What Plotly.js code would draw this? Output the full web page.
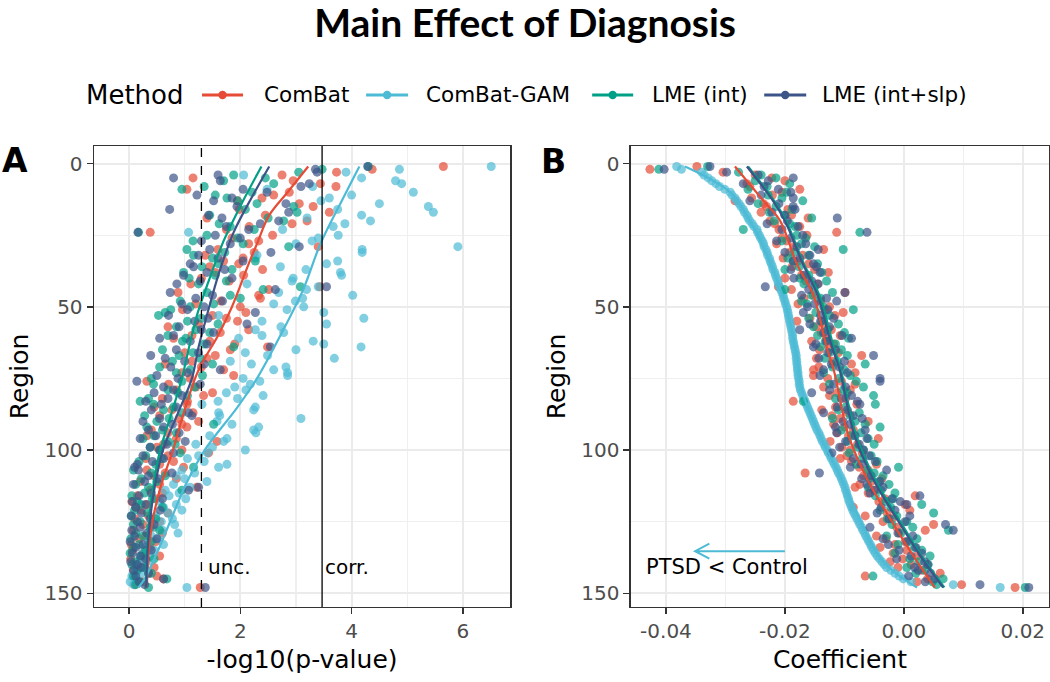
<!DOCTYPE html>
<html><head><meta charset="utf-8">
<script src="https://cdn.plot.ly/plotly-3.0.1.min.js"></script>
<style>body{margin:0;background:#fff}#chart{width:1050px;height:682px}</style>
</head><body><div id="chart"></div>
<script>
// ---------- data ----------
const methods = ['ComBat', 'ComBat-GAM', 'LME (int)', 'LME (int+slp)'];
const colors = ['#E64B35', '#4DBBD5', '#00A087', '#3C5488'];

const regions = [
1,2,3,4,5,6,7,8,9,10,11,12,13,14,15,16,17,18,19,20,
21,22,23,24,25,26,27,28,29,30,31,32,33,34,35,36,37,38,39,40,
41,42,43,44,45,46,47,48,49,50,51,52,53,54,55,56,57,58,59,60,
61,62,63,64,65,66,67,68,69,70,71,72,73,74,75,76,77,78,79,80,
81,82,83,84,85,86,87,88,89,90,91,92,93,94,95,96,97,98,99,100,
101,102,103,104,105,106,107,108,109,110,111,112,113,114,115,116,117,118,119,120,
121,122,123,124,125,126,127,128,129,130,131,132,133,134,135,136,137,138,139,140,
141,142,143,144,145,146,147,148];

// Panel A: -log10(p-value)
const logpCombat = [
5.65,4.37,3.73,2.75,1.15,2.95,3.44,3.72,1.04,2.88,
2.60,2.39,1.95,3.06,3.31,1.98,3.60,2.45,1.40,3.20,
2.93,2.16,1.75,0.38,2.58,1.85,2.33,2.15,3.40,1.60,
2.25,1.37,2.05,1.70,1.97,1.45,2.40,1.55,2.06,1.30,
1.80,1.11,3.43,2.51,0.88,2.33,2.36,1.65,1.20,2.00,
0.96,2.10,1.50,1.75,1.95,1.25,0.70,2.15,1.64,1.13,
0.80,1.45,1.90,2.49,1.82,1.00,1.55,1.40,1.13,0.65,
1.30,1.70,0.95,1.88,1.10,0.32,0.71,1.20,0.85,1.50,
1.34,0.60,1.05,1.04,0.45,0.77,1.15,0.55,0.90,1.25,
0.95,1.04,0.40,0.70,0.32,0.85,1.58,0.62,0.50,0.95,
1.43,0.70,0.30,0.80,0.55,0.98,0.32,0.65,0.45,0.85,
0.20,0.55,1.22,0.38,0.60,0.15,0.48,0.05,0.32,0.12,
0.22,0.70,0.35,0.10,0.55,0.25,0.42,0.08,0.60,0.30,
0.18,0.48,0.04,0.38,0.06,0.25,0.55,0.03,0.30,0.15,
0.45,0.08,0.35,0.50,0.62,0.26,0.10,1.28];
const logpGam = [
6.51,4.86,3.90,2.06,4.18,4.79,4.90,3.30,2.48,5.11,
4.00,3.60,3.45,4.50,5.38,3.75,5.47,4.18,3.20,4.34,
3.88,3.67,2.76,1.07,3.76,3.40,3.29,3.00,5.91,4.19,
4.19,2.30,2.27,3.75,3.55,2.72,3.18,3.80,3.82,2.95,
2.93,2.12,3.40,3.19,2.69,4.02,3.12,2.99,2.60,3.14,
2.84,3.50,1.61,4.22,2.39,3.55,2.73,2.27,2.78,2.39,
1.97,3.31,3.50,4.17,3.00,2.09,2.49,3.69,1.82,2.20,
2.82,2.60,2.85,2.85,2.05,2.35,2.18,1.90,2.10,1.75,
2.41,1.95,1.60,1.31,2.27,2.24,1.61,1.63,3.09,1.58,
1.85,2.33,2.24,2.28,1.45,1.76,1.70,1.20,1.50,2.09,
1.41,1.25,1.05,1.35,1.76,1.61,0.95,1.18,0.85,1.00,
1.40,0.80,1.10,0.65,0.90,0.72,1.02,0.55,0.85,0.62,
0.95,0.70,0.48,0.78,0.58,0.82,0.45,0.60,0.88,0.40,
0.52,0.35,0.62,0.30,0.45,0.25,0.38,0.20,0.32,0.15,
0.28,0.10,0.22,0.05,0.12,0.02,0.08,1.04];
const logpInt = [
4.30,3.47,3.05,1.88,2.45,1.70,2.60,1.35,0.95,2.21,
1.55,1.76,1.95,2.30,2.96,2.09,3.02,1.45,2.50,2.78,
1.62,1.82,2.25,0.17,1.40,1.95,1.15,2.05,2.87,1.04,
1.72,1.16,1.50,2.27,1.61,1.31,1.85,0.98,1.55,1.08,
1.75,1.25,3.08,2.41,1.40,1.82,2.00,0.92,1.52,1.10,
0.75,0.65,0.53,1.30,1.05,1.60,0.85,1.20,1.45,0.70,
1.02,0.96,1.35,1.88,0.60,1.15,0.90,1.28,0.78,1.50,
0.55,1.10,0.85,1.32,0.40,0.95,0.44,1.18,0.70,0.88,
1.05,0.35,0.20,0.44,0.80,0.62,0.95,0.28,0.72,0.50,
1.52,0.32,0.60,0.85,0.45,0.25,0.70,0.83,0.38,0.55,
0.92,0.30,0.59,0.18,0.48,1.16,0.08,0.40,0.65,0.22,
0.50,0.12,0.35,0.95,0.28,0.05,0.42,0.15,0.22,0.60,
0.10,0.33,0.04,0.48,0.20,0.08,0.38,0.55,0.12,0.25,
0.03,0.40,0.18,0.08,0.30,0.02,0.22,0.45,0.10,0.05,
0.28,0.15,0.40,0.08,0.68,0.20,0.12,0.35];
const logpSlp = [
4.29,3.35,3.38,1.60,0.80,1.64,3.24,3.09,2.05,2.48,
1.22,1.85,1.52,2.82,1.94,0.73,2.87,1.43,1.67,2.69,
2.36,1.75,2.15,0.16,1.55,2.00,1.30,1.82,3.06,1.45,
2.55,1.25,1.60,2.05,1.10,1.16,1.72,1.40,0.98,1.85,
1.28,0.86,3.55,2.63,0.74,1.50,1.20,1.68,0.95,1.35,
1.05,2.27,0.71,1.42,1.18,2.12,0.90,1.30,1.52,0.80,
0.55,1.10,1.40,2.54,0.85,1.25,0.39,0.65,1.00,1.35,
0.75,1.64,1.05,0.50,0.88,0.14,1.28,0.62,0.80,0.45,
0.95,0.70,0.30,0.58,0.85,0.40,1.07,1.13,0.55,0.25,
0.78,0.62,0.35,0.90,0.48,0.20,1.01,0.68,0.38,0.55,
0.80,0.25,0.62,0.42,0.15,0.10,0.17,0.77,0.35,0.52,
0.28,0.08,1.25,1.07,0.40,0.18,0.60,0.06,0.30,0.12,
0.56,0.22,0.04,0.38,0.15,0.45,0.20,0.05,0.32,0.10,
0.50,0.02,0.25,0.12,0.40,0.06,0.20,0.30,0.03,0.15,
0.22,0.08,0.35,0.12,0.62,0.18,0.28,1.37];

// Panel B: coefficient
const coefCombat = [
-0.0348,-0.0427,-0.0304,-0.0250,-0.0222,-0.0200,-0.0264,-0.0259,-0.0175,-0.0205,
-0.0221,-0.0256,-0.0284,-0.0236,-0.0231,-0.0195,-0.0240,-0.0189,-0.0161,-0.0225,
-0.0217,-0.0175,-0.0210,-0.0113,-0.0163,-0.0205,-0.0197,-0.0214,-0.0185,-0.0135,
-0.0192,-0.0170,-0.0203,-0.0178,-0.0160,-0.0188,-0.0150,-0.0127,-0.0172,-0.0200,
-0.0165,-0.0145,-0.0211,-0.0189,-0.0099,-0.0152,-0.0168,-0.0140,-0.0178,-0.0125,
-0.0133,-0.0102,-0.0116,-0.0158,-0.0180,-0.0135,-0.0148,-0.0122,-0.0139,-0.0107,
-0.0130,-0.0155,-0.0118,-0.0126,-0.0142,-0.0110,-0.0071,-0.0147,-0.0120,-0.0088,
-0.0143,-0.0152,-0.0082,-0.0152,-0.0128,-0.0105,-0.0082,-0.0135,-0.0090,-0.0112,
-0.0125,-0.0098,-0.0186,-0.0079,-0.0115,-0.0138,-0.0094,-0.0121,-0.0107,-0.0060,
-0.0118,-0.0100,-0.0085,-0.0112,-0.0093,-0.0043,-0.0124,-0.0078,-0.0104,-0.0090,
-0.0070,-0.0096,-0.0107,-0.0088,-0.0046,-0.0075,-0.0060,-0.0166,-0.0068,-0.0037,
-0.0055,-0.0074,-0.0082,-0.0048,-0.0060,0.0019,-0.0032,-0.0042,0.0002,-0.0085,
0.0010,-0.0028,-0.0065,-0.0020,-0.0035,0.0050,-0.0012,0.0036,-0.0008,-0.0046,
-0.0030,0.0002,-0.0015,-0.0040,0.0005,-0.0018,0.0022,-0.0002,-0.0023,0.0012,
-0.0010,0.0030,0.0061,-0.0065,0.0040,0.0022,0.0097,0.0187];
const coefGam = [
-0.0382,-0.0374,-0.0340,-0.0336,-0.0329,-0.0323,-0.0316,-0.0310,-0.0301,-0.0292,
-0.0289,-0.0284,-0.0281,-0.0277,-0.0274,-0.0270,-0.0268,-0.0264,-0.0262,-0.0259,
-0.0255,-0.0252,-0.0247,-0.0246,-0.0243,-0.0241,-0.0238,-0.0236,-0.0235,-0.0232,
-0.0230,-0.0229,-0.0226,-0.0225,-0.0223,-0.0221,-0.0220,-0.0217,-0.0216,-0.0214,
-0.0212,-0.0211,-0.0209,-0.0207,-0.0205,-0.0203,-0.0202,-0.0200,-0.0199,-0.0197,
-0.0196,-0.0195,-0.0194,-0.0193,-0.0192,-0.0191,-0.0190,-0.0189,-0.0188,-0.0187,
-0.0187,-0.0186,-0.0185,-0.0184,-0.0183,-0.0182,-0.0181,-0.0181,-0.0180,-0.0180,
-0.0179,-0.0179,-0.0178,-0.0178,-0.0177,-0.0176,-0.0176,-0.0175,-0.0174,-0.0172,
-0.0170,-0.0168,-0.0166,-0.0164,-0.0162,-0.0160,-0.0158,-0.0156,-0.0154,-0.0152,
-0.0150,-0.0148,-0.0146,-0.0143,-0.0141,-0.0139,-0.0137,-0.0134,-0.0132,-0.0129,
-0.0127,-0.0124,-0.0122,-0.0119,-0.0117,-0.0114,-0.0112,-0.0110,-0.0107,-0.0105,
-0.0103,-0.0101,-0.0099,-0.0098,-0.0096,-0.0095,-0.0093,-0.0092,-0.0090,-0.0088,
-0.0086,-0.0084,-0.0081,-0.0079,-0.0076,-0.0074,-0.0071,-0.0069,-0.0066,-0.0064,
-0.0061,-0.0059,-0.0056,-0.0054,-0.0051,-0.0048,-0.0045,-0.0041,-0.0037,-0.0033,
-0.0029,-0.0022,-0.0015,-0.0008,-0.0001,0.0012,0.0083,0.0162];
const coefInt = [
-0.0330,-0.0412,-0.0278,-0.0240,-0.0215,-0.0250,-0.0192,-0.0230,-0.0262,-0.0197,
-0.0228,-0.0205,-0.0170,-0.0245,-0.0215,-0.0188,-0.0226,-0.0200,-0.0155,-0.0218,
-0.0192,-0.0183,-0.0270,-0.0074,-0.0180,-0.0165,-0.0205,-0.0172,-0.0150,-0.0102,
-0.0185,-0.0160,-0.0195,-0.0186,-0.0145,-0.0176,-0.0200,-0.0138,-0.0160,-0.0175,
-0.0130,-0.0168,-0.0150,-0.0200,-0.0120,-0.0155,-0.0140,-0.0172,-0.0163,-0.0135,
-0.0085,-0.0148,-0.0125,-0.0160,-0.0138,-0.0110,-0.0152,-0.0128,-0.0100,-0.0145,
-0.0093,-0.0132,-0.0115,-0.0140,-0.0105,-0.0125,-0.0095,-0.0133,-0.0112,-0.0065,
-0.0120,-0.0100,-0.0135,-0.0090,-0.0110,-0.0080,-0.0125,-0.0068,-0.0102,-0.0095,
-0.0051,-0.0115,-0.0169,-0.0048,-0.0098,-0.0110,-0.0075,-0.0090,-0.0120,-0.0082,
-0.0065,-0.0040,-0.0105,-0.0072,-0.0088,-0.0060,-0.0095,-0.0050,-0.0078,-0.0068,
-0.0092,-0.0055,-0.0070,-0.0045,-0.0080,-0.0009,-0.0062,-0.0050,-0.0035,-0.0058,
-0.0042,-0.0025,-0.0060,-0.0038,-0.0015,-0.0048,-0.0018,-0.0030,0.0030,-0.0022,
-0.0040,0.0050,-0.0012,-0.0028,0.0005,-0.0020,0.0015,0.0075,-0.0005,-0.0029,
0.0022,0.0008,-0.0010,0.0018,0.0030,-0.0015,0.0044,0.0010,0.0025,0.0041,
0.0005,0.0035,0.0020,-0.0052,0.0066,0.0048,0.0055,0.0204];
const coefSlp = [
-0.0326,-0.0403,-0.0298,-0.0245,-0.0186,-0.0228,-0.0270,-0.0235,-0.0211,-0.0190,
-0.0240,-0.0186,-0.0259,-0.0210,-0.0186,-0.0183,-0.0222,-0.0200,-0.0112,-0.0196,
-0.0230,-0.0178,-0.0205,-0.0062,-0.0170,-0.0190,-0.0214,-0.0165,-0.0180,-0.0144,
-0.0200,-0.0158,-0.0175,-0.0186,-0.0152,-0.0147,-0.0190,-0.0141,-0.0168,-0.0185,
-0.0155,-0.0144,-0.0233,-0.0160,-0.0099,-0.0172,-0.0130,-0.0113,-0.0150,-0.0162,
-0.0128,-0.0169,-0.0140,-0.0118,-0.0140,-0.0158,-0.0125,-0.0175,-0.0135,-0.0104,
-0.0088,-0.0130,-0.0148,-0.0152,-0.0115,-0.0128,-0.0051,-0.0143,-0.0100,-0.0122,
-0.0108,-0.0135,-0.0095,-0.0141,-0.0040,-0.0040,-0.0118,-0.0098,-0.0125,-0.0155,
-0.0088,-0.0105,-0.0078,-0.0074,-0.0112,-0.0095,-0.0135,-0.0085,-0.0070,-0.0102,
-0.0090,-0.0115,-0.0065,-0.0113,-0.0082,-0.0062,-0.0098,-0.0075,-0.0108,-0.0068,
-0.0121,-0.0058,-0.0085,-0.0048,-0.0072,-0.0090,-0.0029,-0.0142,-0.0055,-0.0071,
-0.0040,-0.0062,-0.0035,-0.0050,-0.0057,0.0027,-0.0020,-0.0006,0.0005,-0.0038,
-0.0015,-0.0045,0.0010,-0.0025,0.0002,0.0070,-0.0057,0.0083,-0.0010,0.0015,
-0.0035,0.0005,-0.0026,0.0020,-0.0008,0.0030,0.0012,-0.0012,0.0035,0.0040,
0.0018,0.0024,0.0045,0.0008,0.0052,0.0036,0.0128,0.0210];

// smooth (loess) curves
const smoothRegCombatA = [1,10,18,28,35,50,60,72,86,100,112,124,136,148];
const smoothCombatA = [3.22,2.85,2.52,2.30,2.15,1.85,1.60,1.25,1.00,0.79,0.58,0.43,0.35,0.32];
const smoothRegGamA = [1,12,28,44,60,75,85,100,112,124,136,145,148];
const smoothGamA = [4.14,3.85,3.44,3.13,2.72,2.30,1.95,1.36,1.02,0.76,0.50,0.28,0.17];
const smoothRegIntA = [1,13,27,40,53,64,75,88,100,112,124,136,148];
const smoothIntA = [2.38,2.05,1.70,1.45,1.22,1.08,0.95,0.75,0.56,0.44,0.36,0.32,0.31];
const smoothRegSlpA = [1,12,24,38,53,64,75,88,100,112,124,136,148];
const smoothSlpA = [2.52,2.20,1.88,1.62,1.40,1.25,1.13,0.86,0.61,0.47,0.38,0.33,0.31];

const smoothRegB = [1,13,20,35,46,64,72,95,110,124,137,148];
const smoothCombatB = [-0.0284,-0.0236,-0.0208,-0.0180,-0.0152,-0.0130,-0.0118,-0.0093,-0.0062,-0.0023,0.0016,0.0052];
const smoothIntB = [-0.0262,-0.0218,-0.0198,-0.0168,-0.0142,-0.0118,-0.0106,-0.0080,-0.0049,-0.0009,0.0030,0.0068];
const smoothSlpB = [-0.0264,-0.0220,-0.0200,-0.0170,-0.0145,-0.0121,-0.0108,-0.0083,-0.0052,-0.0012,0.0028,0.0066];
const smoothRegGamB = [1,10,20,35,50,67,80,95,110,126,135,141,148];
const smoothGamB = [-0.0368,-0.0292,-0.0259,-0.0224,-0.0198,-0.0180,-0.0170,-0.0141,-0.0105,-0.0070,-0.0048,-0.0025,0.0022];

const thresholds = [1.301, 3.47];   // unc. and corr. -log10(p) cut-offs
const thresholdLabels = ['unc.', 'corr.'];
const arrowFrom = -0.020, arrowTo = -0.0351, arrowRegion = 135.3;

const tickValsA = [0, 2, 4, 6];
const tickTextA = ['0', '2', '4', '6'];
const tickValsB = [-0.04, -0.02, 0, 0.02];
const tickTextB = ['-0.04', '-0.02', '0.00', '0.02'];
const tickValsY = [0, 50, 100, 150];
const tickTextY = ['0', '50', '100', '150'];

// ---------- traces ----------
const ptsA = [logpCombat, logpGam, logpInt, logpSlp];
const ptsB = [coefCombat, coefGam, coefInt, coefSlp];
const smA = [[smoothRegCombatA, smoothCombatA],[smoothRegGamA, smoothGamA],[smoothRegIntA, smoothIntA],[smoothRegSlpA, smoothSlpA]];
const smB = [[smoothRegB, smoothCombatB],[smoothRegGamB, smoothGamB],[smoothRegB, smoothIntB],[smoothRegB, smoothSlpB]];

const traces = [];
methods.forEach((m, i) => {
  traces.push({type:'scatter', mode:'markers', x: ptsA[i], y: regions, xaxis:'x', yaxis:'y',
    name: m, showlegend:false, marker:{color: colors[i], size:9, opacity:0.7}, hoverinfo:'skip'});
  traces.push({type:'scatter', mode:'markers', x: ptsB[i], y: regions, xaxis:'x2', yaxis:'y2',
    name: m, showlegend:false, marker:{color: colors[i], size:9, opacity:0.7}, hoverinfo:'skip'});
});
methods.forEach((m, i) => {
  traces.push({type:'scatter', mode:'lines', x: smA[i][1], y: smA[i][0], xaxis:'x', yaxis:'y',
    showlegend:false, line:{color: colors[i], width:2.2, shape:'spline', smoothing:1}, hoverinfo:'skip'});
  traces.push({type:'scatter', mode:'lines', x: smB[i][1], y: smB[i][0], xaxis:'x2', yaxis:'y2',
    showlegend:false, line:{color: colors[i], width:2.2, shape:'spline', smoothing:1}, hoverinfo:'skip'});
});

// ---------- layout helpers (pixel -> paper) ----------
const ML = 94, MR = 1.3, MT = 146, MB = 75, W = 1050, H = 682;
const PW = W - ML - MR, PH = H - MT - MB;
const PX = px => (px - ML) / PW;
const PY = py => (H - MB - py) / PH;

const tickFont = {family:'DejaVu Sans', size:20, color:'#4D4D4D'};
const titleFont = {family:'DejaVu Sans', size:25, color:'#000'};

function xAxis(domain, range, tv, tt, minorVals, title) {
  return {domain, range, tickmode:'array', tickvals: tv, ticktext: tt, tickfont: tickFont,
    ticks:'outside', ticklen:6, tickwidth:1.4, tickcolor:'#333333',
    showline:true, mirror:true, linecolor:'#333333', linewidth:1.4,
    showgrid:true, gridcolor:'#EBEBEB', gridwidth:2, zeroline:false,
    minor:{tickmode:'array', tickvals:minorVals, showgrid:true, gridcolor:'#EFEFEF', gridwidth:1.2, ticks:''},
    title:{text:title, font:titleFont, standoff:8}};
}
function yAxis(anchor) {
  return {domain:[0,1], anchor, range:[154.8, -6.14], tickmode:'array', tickvals: tickValsY, ticktext: tickTextY,
    tickfont: tickFont, ticks:'outside', ticklen:6, tickwidth:1.4, tickcolor:'#333333',
    showline:true, mirror:true, linecolor:'#333333', linewidth:1.4,
    showgrid:true, gridcolor:'#EBEBEB', gridwidth:2, zeroline:false,
    minor:{tickmode:'array', tickvals:[25,75,125], showgrid:true, gridcolor:'#EFEFEF', gridwidth:1.2, ticks:''},
    title:{text:'Region', font:titleFont, standoff:8}};
}

const shapes = [
  {type:'line', xref:'x', yref:'y domain', x0:thresholds[0], x1:thresholds[0], y0:0, y1:1,
   line:{color:'#000', width:1.3, dash:'dash'}},
  {type:'line', xref:'x', yref:'y domain', x0:thresholds[1], x1:thresholds[1], y0:0, y1:1,
   line:{color:'#000', width:1.3}},
  {type:'path', xref:'x2', yref:'y2',
   path:`M ${arrowFrom},${arrowRegion} L ${arrowTo},${arrowRegion} M ${arrowTo+0.0024},${arrowRegion-2.6} L ${arrowTo},${arrowRegion} L ${arrowTo+0.0024},${arrowRegion+2.6}`,
   line:{color:'#4DBBD5', width:2}}
];

const annotations = [
  {xref:'x', yref:'y', x:thresholds[0]+0.08, y:141, text:thresholdLabels[0], showarrow:false, xanchor:'left', yanchor:'middle',
   font:{family:'DejaVu Sans', size:20, color:'#000'}},
  {xref:'x', yref:'y', x:thresholds[1]+0.02, y:141, text:thresholdLabels[1], showarrow:false, xanchor:'left', yanchor:'middle',
   font:{family:'DejaVu Sans', size:20, color:'#000'}},
  {xref:'x2', yref:'y2', x:-0.0437, y:141, text:'PTSD &lt; Control', showarrow:false, xanchor:'left', yanchor:'middle',
   font:{family:'DejaVu Sans', size:21, color:'#000'}},
  {xref:'paper', yref:'paper', x:PX(15), y:PY(160.5), text:'<b>A</b>', showarrow:false, xanchor:'center', yanchor:'middle',
   font:{family:'DejaVu Sans', size:33, color:'#000'}},
  {xref:'paper', yref:'paper', x:PX(553), y:PY(161.5), text:'<b>B</b>', showarrow:false, xanchor:'center', yanchor:'middle',
   font:{family:'DejaVu Sans', size:33, color:'#000'}},
  {xref:'paper', yref:'paper', x:PX(84), y:PY(95), text:'Method', showarrow:false, xanchor:'left', yanchor:'middle',
   font:{family:'DejaVu Sans', size:26, color:'#000'}}
];

// manual legend
const legLine = [[202,243,262],[366,408,424],[592,633,650],[764,806,820]];
methods.forEach((m, i) => {
  const [a, b, t] = legLine[i];
  shapes.push({type:'line', xref:'paper', yref:'paper', x0:PX(a), x1:PX(b), y0:PY(95), y1:PY(95),
    line:{color:colors[i], width:3}});
  shapes.push({type:'circle', xref:'paper', yref:'paper', xsizemode:'pixel', ysizemode:'pixel',
    xanchor:PX((a+b)/2), yanchor:PY(95), x0:-4.2, x1:4.2, y0:-4.2, y1:4.2,
    fillcolor:colors[i], line:{width:0}});
  annotations.push({xref:'paper', yref:'paper', x:PX(t), y:PY(95), text:m, showarrow:false,
    xanchor:'left', yanchor:'middle', font:{family:'DejaVu Sans', size:21.5, color:'#000'}});
});

const layout = {
  width: W, height: H,
  margin:{l:ML, r:MR, t:MT, b:MB},
  paper_bgcolor:'#fff', plot_bgcolor:'#fff',
  showlegend:false,
  title:{text:'Main Effect of Diagnosis', xanchor:'center', xref:'paper', y:1-23/682, yanchor:'middle', yref:'container',
    font:{family:'Lato', size:39, weight:700, color:'#000'}},
  xaxis: xAxis([0, PX(510)], [-0.63, 6.85], tickValsA, tickTextA, [1,3,5], '-log10(p-value)'),
  yaxis: yAxis('x'),
  xaxis2: xAxis([PX(630.7), 1], [-0.0459, 0.0244], tickValsB, tickTextB, [-0.03,-0.01,0.01], 'Coefficient'),
  yaxis2: yAxis('x2'),
  shapes, annotations
};
layout.xaxis.anchor = 'y';
layout.xaxis2.anchor = 'y2';
layout.title.x = (525 - ML) / PW;

Plotly.newPlot('chart', traces, layout, {staticPlot:true, displayModeBar:false});
</script></body></html>
